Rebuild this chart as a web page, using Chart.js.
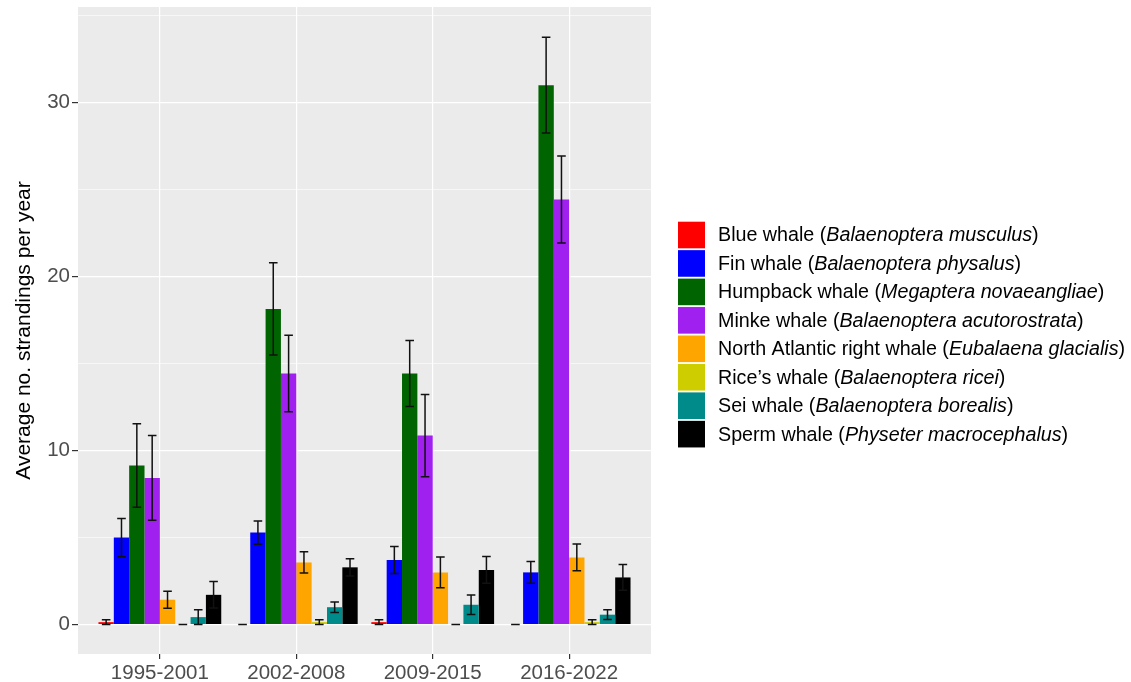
<!DOCTYPE html>
<html>
<head>
<meta charset="utf-8">
<script src="https://cdn.jsdelivr.net/npm/chart.js@4.4.1/dist/chart.umd.min.js"></script>
<style>
  html, body { margin: 0; padding: 0; background: #ffffff; }
  #wrap { width: 1131px; height: 682px; position: relative; }
</style>
</head>
<body>
<div id="wrap"><canvas id="whaleChart"></canvas></div>
<script>
// periods on the x axis
const periods = ['1995-2001', '2002-2008', '2009-2015', '2016-2022'];

// legend names: common part + italic latin part
const commonNames = ['Blue whale', 'Fin whale', 'Humpback whale', 'Minke whale',
  'North Atlantic right whale', 'Rice\u2019s whale', 'Sei whale', 'Sperm whale'];
const latinNames = ['Balaenoptera musculus', 'Balaenoptera physalus', 'Megaptera novaeangliae',
  'Balaenoptera acutorostrata', 'Eubalaena glacialis', 'Balaenoptera ricei',
  'Balaenoptera borealis', 'Physeter macrocephalus'];
const colors = ['#FF0000', '#0000FF', '#006400', '#A020F0', '#FFA500', '#CDCD00', '#008B8B', '#000000'];

// average strandings per year and error (+/-)
const blue     = [0.14, 0, 0.14, 0];
const blueErr  = [0.14, 0, 0.14, 0];
const fin      = [5.0, 5.29, 3.71, 3.0];
const finErr   = [1.1, 0.67, 0.78, 0.63];
const humpback    = [9.14, 18.14, 14.43, 31.0];
const humpbackErr = [2.4, 2.65, 1.9, 2.75];
const minke    = [8.43, 14.43, 10.86, 24.43];
const minkeErr = [2.44, 2.2, 2.36, 2.5];
const narw     = [1.43, 3.57, 3.0, 3.86];
const narwErr  = [0.49, 0.61, 0.88, 0.77];
const rice     = [0, 0.14, 0, 0.14];
const riceErr  = [0, 0.14, 0, 0.14];
const sei      = [0.43, 1.0, 1.14, 0.57];
const seiErr   = [0.42, 0.3, 0.56, 0.28];
const sperm    = [1.71, 3.29, 3.14, 2.71];
const spermErr = [0.76, 0.5, 0.77, 0.74];

const yTicks = [0, 10, 20, 30];
const yGrid = [0, 5, 10, 15, 20, 25, 30, 35];

const values = [blue, fin, humpback, minke, narw, rice, sei, sperm];
const errors = [blueErr, finErr, humpbackErr, minkeErr, narwErr, riceErr, seiErr, spermErr];

const FONT = "'Liberation Sans', Arial, sans-serif";

// grey panel background
const panelBg = {
  id: 'panelBg',
  beforeDraw(chart) {
    const { ctx, chartArea: a } = chart;
    ctx.save();
    ctx.fillStyle = '#EBEBEB';
    ctx.fillRect(a.left, a.top, a.right - a.left, a.bottom - a.top);
    ctx.restore();
  },
};

// error bars on top of the bars
const errorBars = {
  id: 'errorBars',
  afterDatasetsDraw(chart) {
    const { ctx } = chart;
    const yScale = chart.scales.y;
    ctx.save();
    ctx.strokeStyle = '#111111';
    ctx.lineWidth = 1.5;
    chart.data.datasets.forEach((ds, i) => {
      const meta = chart.getDatasetMeta(i);
      meta.data.forEach((el, j) => {
        const v = ds.data[j].y;
        const e = ds.err[j];
        const x = el.x;
        const half = el.width * 0.28;
        const yHi = yScale.getPixelForValue(v + e);
        const yLo = yScale.getPixelForValue(v - e);
        ctx.beginPath();
        ctx.moveTo(x, yHi); ctx.lineTo(x, yLo);
        ctx.moveTo(x - half, yHi); ctx.lineTo(x + half, yHi);
        ctx.moveTo(x - half, yLo); ctx.lineTo(x + half, yLo);
        ctx.stroke();
      });
    });
    ctx.restore();
  },
};

// legend with italic species names
const whaleLegend = {
  id: 'whaleLegend',
  afterDraw(chart) {
    const { ctx } = chart;
    const x0 = 678, y0 = 221.7, key = 26.6, pitch = 28.45;
    ctx.save();
    ctx.textBaseline = 'middle';
    chart.data.datasets.forEach((ds, i) => {
      const top = y0 + i * pitch;
      ctx.fillStyle = ds.backgroundColor;
      ctx.fillRect(x0, top, 27, key);
      const cy = top + key / 2 + 1;
      let x = 718;
      ctx.fillStyle = '#000000';
      const parts = [
        ['normal', commonNames[i] + ' ('],
        ['italic', latinNames[i]],
        ['normal', ')'],
      ];
      parts.forEach(([style, txt]) => {
        ctx.font = `${style} 19.7px ${FONT}`;
        ctx.fillText(txt, x, cy);
        x += ctx.measureText(txt).width;
      });
    });
    ctx.restore();
  },
};

const datasets = values.map((vals, i) => ({
  label: commonNames[i],
  data: vals.map((v, j) => ({ x: j + 1, y: v })),
  err: errors[i],
  backgroundColor: colors[i],
  borderWidth: 0,
  categoryPercentage: 0.9,
  barPercentage: 1.0,
}));

new Chart(document.getElementById('whaleChart').getContext('2d'), {
  type: 'bar',
  data: { datasets },
  options: {
    responsive: true,
    maintainAspectRatio: false,
    animation: false,
    layout: { padding: { left: 0, top: 7, right: 480, bottom: 0 } },
    plugins: {
      legend: { display: false },
      tooltip: { enabled: false },
    },
    scales: {
      x: {
        type: 'linear',
        min: 0.4,
        max: 4.6,
        offset: false,
        afterBuildTicks: s => { s.ticks = periods.map((_, i) => ({ value: i + 1 })); },
        afterFit: s => { s.height = 28; s.paddingLeft = 0; s.paddingRight = 0; },
        border: { display: false },
        grid: {
          offset: false,
          color: '#FFFFFF',
          lineWidth: 1.2,
          tickLength: 5,
          tickColor: '#333333',
          tickWidth: 1.2,
        },
        ticks: {
          callback: v => periods[v - 1],
          color: '#4D4D4D',
          padding: 2,
          maxRotation: 0,
          autoSkip: false,
          font: { family: FONT, size: 20.5 },
        },
      },
      y: {
        min: -1.69,
        max: 35.49,
        afterBuildTicks: s => { s.ticks = yGrid.map(v => ({ value: v })); },
        afterFit: s => { s.width = 78; s.paddingTop = 0; s.paddingBottom = 0; },
        border: { display: false },
        grid: {
          color: '#FFFFFF',
          lineWidth: c => (yTicks.includes(c.tick.value) ? 1.2 : 0.6),
          tickLength: 6,
          tickColor: c => (yTicks.includes(c.tick.value) ? '#333333' : 'rgba(0,0,0,0)'),
          tickWidth: 1.2,
        },
        ticks: {
          callback: v => (yTicks.includes(v) ? String(v) : ''),
          color: '#4D4D4D',
          padding: 2,
          font: { family: FONT, size: 20.5 },
        },
        title: {
          display: true,
          text: 'Average no. strandings per year',
          color: '#000000',
          padding: { top: 12, bottom: 0 },
          font: { family: FONT, size: 21 },
        },
      },
    },
  },
  plugins: [panelBg, errorBars, whaleLegend],
});
</script>
</body>
</html>
